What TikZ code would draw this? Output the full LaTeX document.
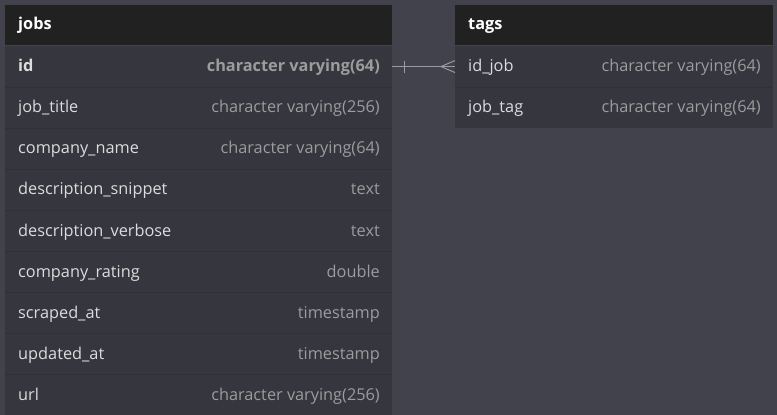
\documentclass[tikz,border=0pt]{standalone}
\usepackage{fontspec}
\setmainfont{Open Sans}
\usetikzlibrary{calc}
\definecolor{bgc}{HTML}{42424C}
\definecolor{hdrc}{HTML}{212121}
\definecolor{rowc}{HTML}{35363E}
\definecolor{sepc}{HTML}{303138}
\definecolor{namec}{HTML}{DCDCDC}
\definecolor{typec}{HTML}{9C9C9C}
\definecolor{connc}{HTML}{9A9AA4}
\begin{document}
\begin{tikzpicture}[x=1pt,y=-1pt,
  hdrbox/.style={fill=hdrc, minimum height=40pt, minimum width=#1, anchor=north west, inner sep=0pt, outer sep=0pt},
  rowbox/.style={fill=rowc, minimum height=41.1pt, minimum width=#1, anchor=north west, inner sep=0pt, outer sep=0pt},
  sep/.style={draw=sepc, line width=0.8pt},
  titlet/.style={text=white, font=\fontsize{16.3}{19}\selectfont\bfseries, anchor=mid west, inner sep=0pt},
  namet/.style={text=namec, font=\fontsize{16.3}{19}\selectfont, anchor=mid west, inner sep=0pt},
  typet/.style={text=typec, font=\fontsize{16.3}{19}\selectfont, anchor=mid east, inner sep=0pt},
  conn/.style={draw=connc, line width=1pt}]
\useasboundingbox[fill=bgc] (0,0) rectangle (777,415);
% jobs table
\node[hdrbox=387pt] (jh) at (5,5) {};
\node[titlet] (jht) at (18,26.5) {jobs};
\node[rowbox=387pt] (j0) at (5,46) {};
\foreach \i/\n/\t in {1/job_title/character varying(256),2/company_name/character varying(64),3/description_snippet/text,4/description_verbose/text,5/company_rating/double,6/scraped_at/timestamp,7/updated_at/timestamp,8/url/character varying(256)}{
  \node[rowbox=387pt] (j\i) at (5,{46+41.1*\i}) {};
  \draw[sep] (j\i.north west) -- (j\i.north east);
  \node[namet] (j\i n) at (18,{69+41.1*\i}) {\detokenize\expandafter{\n}};
  \node[typet] (j\i t) at (380,{69+41.1*\i}) {\t};
}
\node[namet, font=\fontsize{16.3}{19}\selectfont\bfseries] (j0n) at (18,69) {id};
\node[typet, font=\fontsize{16.3}{19}\selectfont\bfseries] (j0t) at (380,69) {character varying(64)};
% tags table
\node[hdrbox=318pt] (th) at (455,5) {};
\node[titlet] (tht) at (468,26.5) {tags};
\node[rowbox=318pt] (t0) at (455,46) {};
\node[namet] (t0n) at (468,69) {id\_job};
\node[typet] (t0t) at (761,69) {character varying(64)};
\node[rowbox=318pt, minimum height=41pt] (t1) at (455,87.1) {};
\draw[sep] (t1.north west) -- (t1.north east);
\node[namet] (t1n) at (468,110) {job\_tag};
\node[typet] (t1t) at (761,110) {character varying(64)};
% connector
\draw[conn] (j0.east) -- (t0.west);
\coordinate (tick) at ($(j0.east)+(12,0)$);
\draw[conn] ($(tick)+(0,-6)$) -- ($(tick)+(0,6)$);
\coordinate (foot) at ($(t0.west)+(-14,0)$);
\draw[conn] ($(t0.west)+(0,-6)$) -- (foot) -- ($(t0.west)+(0,6)$);
\end{tikzpicture}
\end{document}
